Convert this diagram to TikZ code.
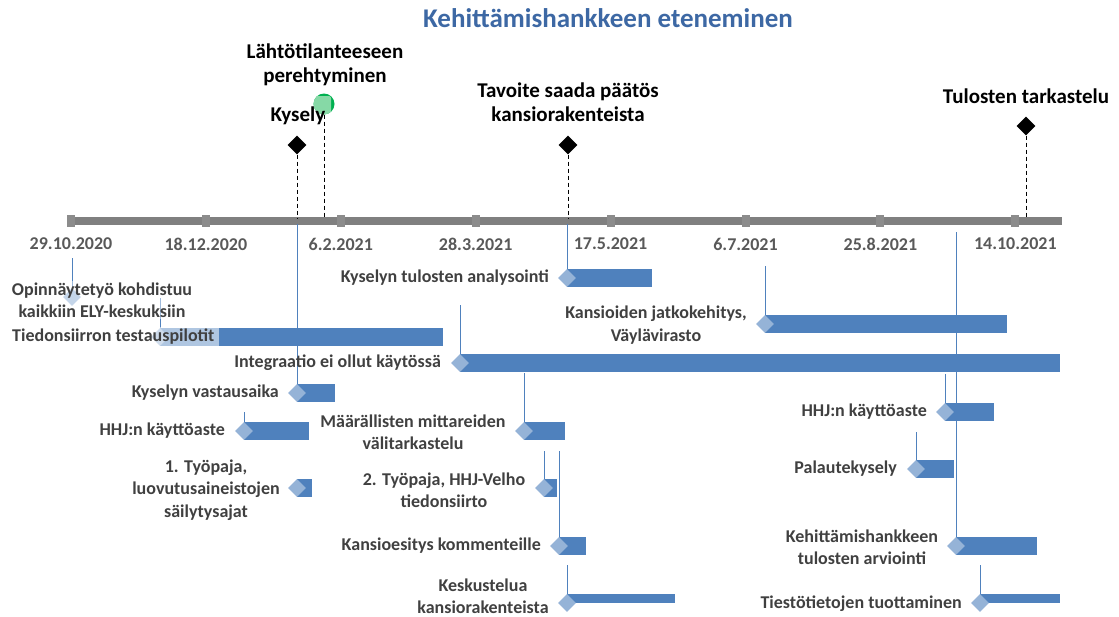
\documentclass[tikz,border=0pt]{standalone}
\usepackage{fontspec}
\setmainfont{Carlito}
\usetikzlibrary{shapes.geometric}
\definecolor{barblue}{HTML}{4F81BD}
\definecolor{lightblue}{HTML}{95B3D7}
\definecolor{axisgray}{HTML}{808080}
\definecolor{tickgray}{HTML}{8C8C8C}
\definecolor{labelgray}{HTML}{404040}
\definecolor{dategray}{HTML}{595959}
\definecolor{titleblue}{HTML}{3D68A4}
\definecolor{msgreen}{HTML}{00B050}
\definecolor{mslight}{HTML}{86D9A6}

\tikzset{
  taskbar/.style={rectangle, fill=barblue, inner sep=0pt, minimum height=18pt, anchor=west},
  taskdiamond/.style={diamond, fill=lightblue, inner sep=0pt, minimum width=18pt, minimum height=18pt},
  tasklabel/.style={text=labelgray, font=\fontsize{18}{22.5}\selectfont\bfseries, align=center, inner sep=0pt},
  conn/.style={barblue, line width=0.9pt},
  msdiamond/.style={diamond, fill=black, inner sep=0pt, minimum width=19pt, minimum height=19pt},
  mslabel/.style={font=\fontsize{21}{24.5}\selectfont\bfseries, align=center, inner sep=0pt},
  msline/.style={black, line width=0.8pt, dash pattern=on 4pt off 3pt},
  datelabel/.style={text=dategray, font=\fontsize{18}{20}\selectfont\bfseries, inner sep=0pt},
}

\begin{document}
\begin{tikzpicture}[x=1pt,y=-1pt]
  \useasboundingbox (0,0) rectangle (1119,616);
  \node[font=\fontsize{27}{30}\selectfont\bfseries, text=titleblue] (title) at (608,18) {Kehittämishankkeen eteneminen};

  % time axis
  \coordinate (AxisMin) at (67,221);
  \coordinate (AxisMax) at (1062,221);
  \draw [axisgray, line width=8pt] (AxisMin) -- (AxisMax);
  \foreach \d [count=\i from 0] in {29.10.2020,18.12.2020,6.2.2021,28.3.2021,17.5.2021,6.7.2021,25.8.2021,14.10.2021}{%
    \node[fill=tickgray, inner sep=0pt, minimum width=8pt, minimum height=12pt] (t\i) at (71+134.9*\i,221) {};
    \node[datelabel] (dl\i) at (71+134.9*\i,244) {\d};% date under each tick
  }

  % milestones above the axis
  \coordinate (axKysely) at (297,219);
  \coordinate (axLahto) at (324,219);
  \coordinate (axTavoite) at (568,219);
  \coordinate (axTulos) at (1026,219);
  \node[msdiamond] (msKysely) at (297,145) {};
  \node[msdiamond] (msTavoite) at (568,145) {};
  \node[msdiamond] (msTulos) at (1026,126) {};
  \node[circle, fill=msgreen, inner sep=0pt, minimum size=21pt] (msLahto) at (324,104) {};
  \begin{scope}
    \clip (msLahto.center) circle (10.5);
    \fill[mslight, rounded corners=2pt] (313,96) rectangle (331,116);
  \end{scope}
  \draw[msline] (msKysely.south) -- (axKysely);
  \draw[msline] (msLahto.south) -- (axLahto);
  \draw[msline] (msTavoite.south) -- (axTavoite);
  \draw[msline] (msTulos.south) -- (axTulos);
  \node[mslabel] (lbLahto) at (325,65) {Lähtötilanteeseen\\perehtyminen};
  \node[mslabel] (lbKysely) at (298,116) {Kysely};
  \node[mslabel] (lbTavoite) at (568,102) {Tavoite saada päätös\\kansiorakenteista};
  \node[mslabel] (lbTulos) at (1026,96) {Tulosten tarkastelu};

  % task bars
  \node[taskbar, minimum width=283pt] (bPilot) at (160,337) {};
  \node[taskbar, minimum width=85pt] (bAnal) at (567,278) {};
  \node[taskbar, minimum width=242pt] (bJatko) at (765,324) {};
  \node[taskbar, minimum width=600pt] (bInteg) at (460,363) {};
  \node[taskbar, minimum width=38pt] (bVast) at (297,393) {};
  \node[taskbar, minimum width=65pt] (bHHJa) at (244,431) {};
  \node[taskbar, minimum width=41pt] (bMitt) at (524,431) {};
  \node[taskbar, minimum width=49pt] (bHHJb) at (945,412) {};
  \node[taskbar, minimum width=38pt] (bPalaute) at (916,469) {};
  \node[taskbar, minimum width=15pt] (bTp1) at (297,488) {};
  \node[taskbar, minimum width=13pt] (bTp2) at (544,488) {};
  \node[taskbar, minimum width=27pt] (bEsitys) at (559,546) {};
  \node[taskbar, minimum width=81pt] (bArvio) at (956,546) {};
  \node[taskbar, minimum width=108pt, minimum height=9pt, anchor=north west] (bKesk) at (567,594) {};
  \node[taskbar, minimum width=80pt, minimum height=9pt, anchor=north west] (bTiesto) at (980,594) {};

  % start diamonds
  \node[taskdiamond] (dOpin) at (72,297) {};
  \node[taskdiamond] (dPilot) at (bPilot.west) {};
  \node[taskdiamond] (dAnal) at (bAnal.west) {};
  \node[taskdiamond] (dJatko) at (bJatko.west) {};
  \node[taskdiamond] (dInteg) at (bInteg.west) {};
  \node[taskdiamond] (dVast) at (bVast.west) {};
  \node[taskdiamond] (dHHJa) at (bHHJa.west) {};
  \node[taskdiamond] (dMitt) at (bMitt.west) {};
  \node[taskdiamond] (dHHJb) at (bHHJb.west) {};
  \node[taskdiamond] (dPalaute) at (bPalaute.west) {};
  \node[taskdiamond] (dTp1) at (bTp1.west) {};
  \node[taskdiamond] (dTp2) at (bTp2.west) {};
  \node[taskdiamond] (dEsitys) at (bEsitys.west) {};
  \node[taskdiamond] (dArvio) at (bArvio.west) {};
  \node[taskdiamond] (dKesk) at (567,603) {};
  \node[taskdiamond] (dTiesto) at (980,603) {};

  % connector lines
  \coordinate (cOpin) at (72,258);
  \coordinate (cPilot) at (160,298);
  \coordinate (cAnal) at (567,224);
  \coordinate (cJatko) at (765,266);
  \coordinate (cInteg) at (460,305);
  \coordinate (cVast) at (297,224);
  \coordinate (cHHJa) at (244,412);
  \coordinate (cMitt) at (524,373);
  \coordinate (cHHJb) at (945,374);
  \coordinate (cPalaute) at (916,432);
  \coordinate (cTp2) at (544,451);
  \coordinate (cEsitys) at (559,451);
  \coordinate (cArvio) at (956,232);
  \coordinate (cKesk) at (567,565);
  \coordinate (cTiesto) at (980,565);
  \foreach \t in {Opin,Pilot,Anal,Jatko,Integ,Vast,HHJa,Mitt,HHJb,Palaute,Tp2,Esitys,Arvio,Kesk,Tiesto}
    \draw[conn] (c\t) -- (d\t.north);

  % task labels
  \node[tasklabel, fill=white, fill opacity=0.45, text opacity=1, inner xsep=3pt, inner ysep=1pt] (lOpin) at (102,300) {Opinnäytetyö kohdistuu\\kaikkiin ELY-keskuksiin};
  \node[tasklabel, fill=white, fill opacity=0.55, text opacity=1, inner xsep=5pt, inner ysep=2pt, anchor=west] (lPilot) at (7,337) {Tiedonsiirron testauspilotit};
  \node[tasklabel, anchor=east] (lAnal) at (549,278) {Kyselyn tulosten analysointi};
  \node[tasklabel] (lJatko) at (656,325) {Kansioiden jatkokehitys,\\Väylävirasto};
  \node[tasklabel, anchor=east] (lInteg) at (441,363) {Integraatio ei ollut käytössä};
  \node[tasklabel, anchor=east] (lVast) at (279,393) {Kyselyn vastausaika};
  \node[tasklabel, anchor=east] (lHHJa) at (225,431) {HHJ:n käyttöaste};
  \node[tasklabel] (lMitt) at (413,432) {Määrällisten mittareiden\\välitarkastelu};
  \node[tasklabel, anchor=east] (lHHJb) at (927,412) {HHJ:n käyttöaste};
  \node[tasklabel, anchor=east] (lPalaute) at (897,469) {Palautekysely};
  \node[tasklabel] (lTp1) at (206,490) {1. Työpaja,\\luovutusaineistojen\\säilytysajat};
  \node[tasklabel] (lTp2) at (444,490) {2. Työpaja, HHJ-Velho\\tiedonsiirto};
  \node[tasklabel, anchor=east] (lEsitys) at (541,546) {Kansioesitys kommenteille};
  \node[tasklabel] (lArvio) at (862,547) {Kehittämishankkeen\\tulosten arviointi};
  \node[tasklabel] (lKesk) at (483,596) {Keskustelua\\kansiorakenteista};
  \node[tasklabel, anchor=east] (lTiesto) at (962,604) {Tiestötietojen tuottaminen};
\end{tikzpicture}
\end{document}
